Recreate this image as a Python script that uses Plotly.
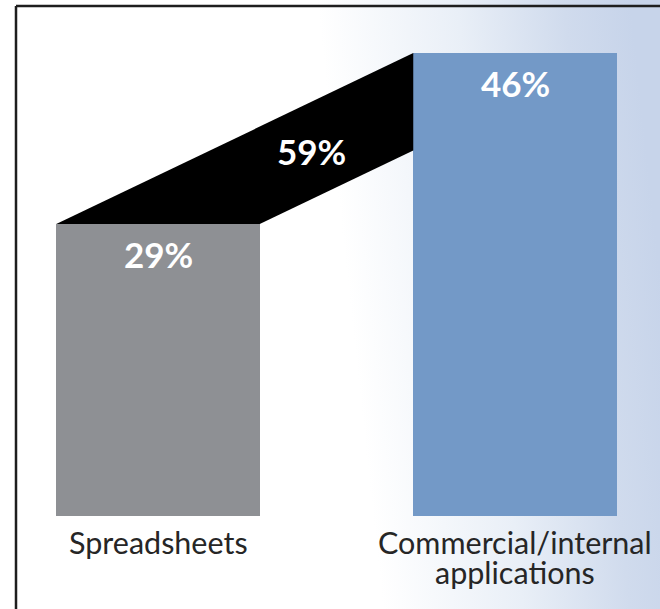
import base64
import plotly.graph_objects as go

# Share of respondents by tool
categories = ["Spreadsheets", "Commercial/internal<br>applications"]
shares = [29, 46]
bridge_share = 59

bar_colors = ["#8e9094", "#7399c7"]
bar_width = 0.57
positions = [0, 1]

W, H = 660, 609

fig = go.Figure()

# Black connector running from the top of the first bar to the second bar
half = bar_width / 2
slope = (shares[1] - shares[0]) / (positions[1] - positions[0])
x_left0 = positions[0] - half
x_right0 = positions[0] + half
x_left1 = positions[1] - half
y_bottom_end = shares[0] + slope * (x_left1 - x_right0)
fig.add_trace(go.Scatter(
    x=[x_left0, x_left1, x_left1, x_right0, x_left0],
    y=[shares[0], shares[1], y_bottom_end, shares[0], shares[0]],
    fill="toself", fillcolor="#000000", mode="lines",
    line=dict(color="#000000", width=0), hoverinfo="skip", showlegend=False,
))

fig.add_trace(go.Bar(
    x=positions, y=shares, width=bar_width,
    marker=dict(color=bar_colors, line=dict(width=0)),
    hoverinfo="skip", showlegend=False,
))

value_font = dict(family="Lato", size=35, color="#ffffff")
for x, v in zip(positions, shares):
    fig.add_annotation(x=x, y=v, text=f"<b>{v}%</b>", showarrow=False,
                       yanchor="middle", yshift=-30, font=value_font)

# Connector label, placed on the connector's centre line
lx = 0.43
mid_y = (shares[0] + slope * (lx - x_left0) + shares[0] + slope * (lx - x_right0)) / 2
fig.add_annotation(x=lx, y=mid_y, text=f"<b>{bridge_share}%</b>", showarrow=False,
                   font=value_font)

# Category labels under the bars, one annotation per line for tight leading
label_font = dict(family="Lato", size=30.5, color="#262626")
for x, c in zip(positions, categories):
    for i, line in enumerate(c.split("<br>")):
        fig.add_annotation(x=x, y=0, text=line, showarrow=False, yanchor="top",
                           yshift=-6 - 30 * i, font=label_font)

# Soft blue wash toward the right edge
svg = f"""<svg xmlns='http://www.w3.org/2000/svg' width='{W}' height='{H}'>
<defs><linearGradient id='g' x1='0' y1='0.55' x2='1' y2='0.45'>
<stop offset='0' stop-color='#ffffff'/>
<stop offset='0.53' stop-color='#ffffff'/>
<stop offset='0.74' stop-color='#e9eff7'/>
<stop offset='0.9' stop-color='#d0dbed'/>
<stop offset='1' stop-color='#c7d4ea'/>
</linearGradient></defs>
<rect width='{W}' height='{H}' fill='url(#g)'/></svg>"""
src = "data:image/svg+xml;base64," + base64.b64encode(svg.encode()).decode()
fig.add_layout_image(dict(source=src, xref="paper", yref="paper", x=0, y=1,
                          sizex=1, sizey=1, sizing="stretch", layer="below"))

# Frame lines along the top and left
bx, by = 16 / W, 1 - 6 / H
fig.add_shape(type="line", xref="paper", yref="paper", x0=bx, x1=1, y0=by, y1=by,
              line=dict(color="#1e1e1e", width=2.5))
fig.add_shape(type="line", xref="paper", yref="paper", x0=bx, x1=bx, y0=0, y1=by,
              line=dict(color="#1e1e1e", width=2.5))

px_per_x = 357
x0_px = 158
px_per_y = 10.065
y0_px = 516
fig.update_layout(
    width=W, height=H, margin=dict(l=0, r=0, t=0, b=0, autoexpand=False),
    paper_bgcolor="#ffffff", plot_bgcolor="rgba(0,0,0,0)",
    xaxis=dict(range=[-x0_px / px_per_x, (W - x0_px) / px_per_x], visible=False, fixedrange=True),
    yaxis=dict(range=[-(H - y0_px) / px_per_y, y0_px / px_per_y], visible=False, fixedrange=True),
    bargap=0,
)

fig.write_html("out.html")
